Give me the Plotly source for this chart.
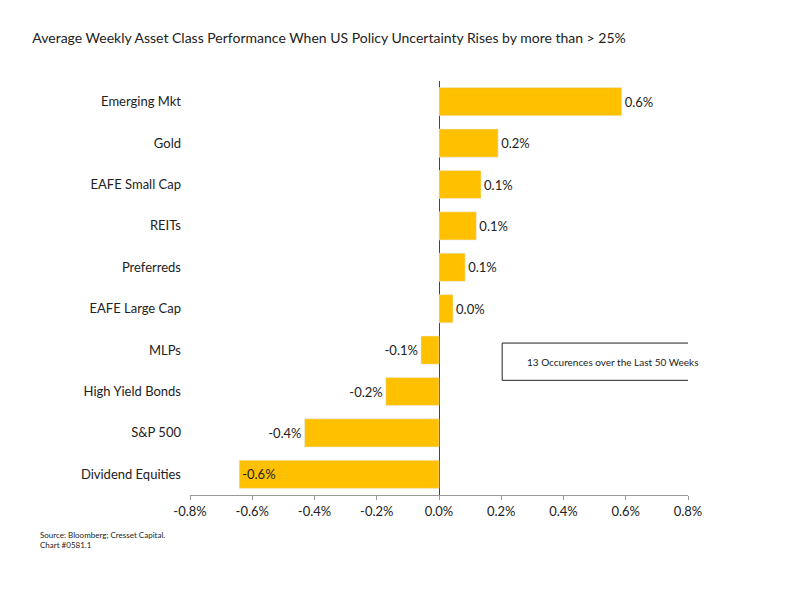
import plotly.graph_objects as go

categories = ["Dividend Equities", "S&P 500", "High Yield Bonds", "MLPs", "EAFE Large Cap",
              "Preferreds", "REITs", "EAFE Small Cap", "Gold", "Emerging Mkt"]
values = [-0.642, -0.432, -0.171, -0.058, 0.045, 0.084, 0.12, 0.135, 0.19, 0.587]
labels = ["-0.6%", "-0.4%", "-0.2%", "-0.1%", "0.0%", "0.1%", "0.1%", "0.1%", "0.2%", "0.6%"]
tick_vals = [-0.8, -0.6, -0.4, -0.2, 0.0, 0.2, 0.4, 0.6, 0.8]
tick_text = ["-0.8%", "-0.6%", "-0.4%", "-0.2%", "0.0%", "0.2%", "0.4%", "0.6%", "0.8%"]

font = "Lato, Open Sans, sans-serif"
fig = go.Figure(go.Bar(
    y=categories, x=values, orientation="h", marker_color="#FFC000",
    text=labels, textposition=["inside"] + ["outside"] * 9, insidetextanchor="end",
    textfont=dict(color="#222", size=13), cliponaxis=False, width=0.68,
))
fig.update_layout(
    width=811, height=589, plot_bgcolor="white", paper_bgcolor="white",
    margin=dict(l=182, r=131, t=73, b=102), showlegend=False,
    font=dict(family=font, size=13, color="#222"),
    title=dict(text="Average Weekly Asset Class Performance When US Policy Uncertainty Rises by more than > 25%",
               x=0.03, xanchor="left", y=0.957, font=dict(size=14, color="#222")),
    xaxis=dict(range=[-0.8, 0.8], tickvals=tick_vals, ticktext=tick_text, showgrid=False,
               zeroline=True, zerolinecolor="#444", zerolinewidth=1,
               showline=True, linecolor="#999", ticks="outside", ticklen=4, tickcolor="#999"),
    yaxis=dict(showgrid=False, ticks="", ticklabelstandoff=8),
    bargap=0.32,
)
fig.add_shape(type="rect", xref="x", yref="y", x0=0.203, x1=0.910, y0=2.27, y1=3.17,
              line=dict(color="#222", width=1), fillcolor="white")
fig.add_annotation(text="13 Occurences over the Last 50 Weeks", xref="x", yref="y",
                   x=0.556, y=2.72, xanchor="center", showarrow=False, font=dict(size=10))
fig.add_annotation(text="Source: Bloomberg; Cresset Capital.<br>Chart #0581.1", xref="paper", yref="paper",
                   x=-0.305, y=-0.08, xanchor="left", yanchor="top", align="left",
                   showarrow=False, font=dict(size=8))
fig.write_html("out.html")
